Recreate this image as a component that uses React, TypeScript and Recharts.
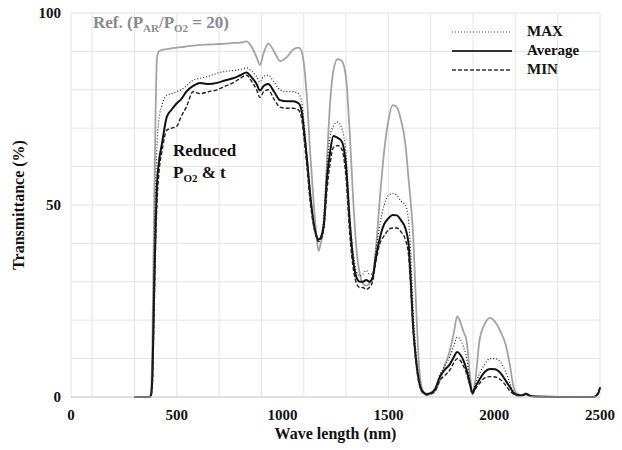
import {
  LineChart,
  Line,
  XAxis,
  YAxis,
  CartesianGrid,
} from 'recharts';

// values
const wavelength = [
  300, 370, 378, 385, 392, 400, 406, 415, 430, 453, 475, 500, 520, 545, 577, 610, 650, 690, 730, 766,
  800, 830, 850, 877, 893, 910, 932, 960, 988, 1020, 1050, 1075, 1090, 1100, 1115, 1130, 1145, 1160, 1170, 1180,
  1195, 1210, 1225, 1240, 1260, 1280, 1300, 1318, 1335, 1350, 1365, 1380, 1395, 1410, 1425, 1440, 1460, 1480, 1500, 1520,
  1540, 1560, 1580, 1595, 1605, 1616, 1630, 1645, 1660, 1680, 1700, 1720, 1745, 1765, 1790, 1810, 1825, 1840, 1855, 1870,
  1885, 1897, 1910, 1930, 1955, 1980, 2005, 2030, 2055, 2075, 2090, 2105, 2130, 2150, 2170, 2200, 2300, 2400, 2470, 2490,
  2500,
];

const refValues = [
  0, 0, 0.5, 15, 45, 75, 88, 90, 90.4, 90.6, 90.8, 91, 91.1, 91.3, 91.5, 91.7, 91.8, 91.9, 92, 92.2,
  92.3, 92.6, 91.5, 88.5, 86.5, 89.5, 92, 90, 87.5, 88.5, 90.5, 91, 90, 87, 78, 64, 52, 42, 38, 40,
  45, 62, 77, 85, 88, 87.5, 83, 68, 50, 38, 32, 29.5, 29, 29.5, 31, 38, 52, 64, 72, 76,
  75.5, 72, 66, 57, 51, 43, 25, 8, 2, 0.5, 0.8, 1.5, 4.5, 8, 12, 17, 21, 19.5, 17, 14.5,
  6, 1, 4, 14.5, 19, 20.6, 19.5, 17, 13.5, 8, 3, 1, 0.5, 1, 0.3, 0.1, 0, 0, 0, 0.8,
  2.5,
];

const maxValues = [
  0, 0, 0.8, 10, 35, 55, 65, 72, 76, 78.6, 79, 79.5, 80, 81, 82.5, 83, 83.5, 84.3, 84.8, 85,
  85.3, 85.7, 85, 83.5, 82, 83.5, 83.8, 82, 80, 79.5, 79.5, 79, 77, 72, 63, 54, 46, 42, 40.5, 41.5,
  47, 60, 68, 70.5, 71.6, 70, 63, 47, 37, 32.5, 31.5, 32, 33, 32, 32, 38, 45, 50, 52.5, 53,
  52.5, 51, 50, 46, 38, 24, 12, 5, 1.5, 0.8, 1, 2.2, 6, 8, 10.5, 13.5, 15.6, 15, 13, 10,
  4.5, 1.2, 3, 6, 8.5, 10, 10, 9, 6.5, 3.5, 1.5, 0.7, 0.4, 0.9, 0.3, 0.1, 0, 0, 0, 0.8,
  2.5,
];

const avgValues = [
  0, 0, 0.5, 6, 25, 45, 55, 61, 66, 73, 74.8, 76.5, 77.5, 79.5, 81, 81.8, 81.5, 81.8, 82.5, 83,
  83.8, 84.5, 83.5, 81.5, 79.8, 81, 81.5, 79.5, 77.3, 77, 77, 76.5, 74.5, 70, 62, 53, 46, 42, 41, 41.5,
  45, 57, 64, 68, 67.5, 66.5, 60, 45, 35, 31, 30, 30, 30.5, 30, 31, 36, 41.5, 45, 46.5, 47.4,
  47.3, 46, 44, 40, 31, 19, 10, 4, 1.5, 0.8, 1, 2, 5.5, 7, 8.5, 10.5, 11.7, 11, 9.5, 7,
  3.5, 1, 2.5, 4.5, 6.5, 7.3, 7.2, 6.2, 4.2, 2.5, 1.2, 0.6, 0.4, 0.8, 0.3, 0.1, 0, 0, 0, 0.8,
  2.5,
];

const minValues = [
  0, 0, 0.3, 4, 20, 40, 50, 58, 64, 69.5, 70, 70.5, 73, 75.5, 79.5, 79, 79.5, 80, 81, 81.8,
  83, 83.8, 82.5, 80, 78, 79.5, 80, 77.5, 75.5, 75.2, 75.2, 74.7, 72.5, 68, 60, 51, 45, 41.5, 40.5, 41,
  44, 54, 61, 65, 65.5, 64.5, 57, 42, 33, 29.5, 28.5, 28.5, 28, 28.5, 30, 35, 40, 42, 43.5, 44,
  44, 43, 41, 37, 29, 18, 9, 3.5, 1.2, 0.6, 0.8, 1.5, 4.5, 5.5, 7, 9, 10, 9.5, 8, 6,
  3, 0.8, 2, 3.5, 5, 5.3, 5.2, 4.5, 3, 1.5, 0.8, 0.4, 0.3, 0.7, 0.2, 0.1, 0, 0, 0, 0.8,
  2.5,
];

const xTicks = [0, 500, 1000, 1500, 2000, 2500];
const yTicks = [0, 50, 100];
const xGrid = Array.from({ length: 26 }, (_, i) => i * 100);
const yGrid = Array.from({ length: 11 }, (_, i) => i * 10);

const legendItems = [
  { name: 'MAX', dash: '1 2', width: 1.2 },
  { name: 'Average', dash: '', width: 2 },
  { name: 'MIN', dash: '4 2', width: 1.4 },
];

const data = wavelength.map((w, i) => ({
  w,
  ref: refValues[i],
  max: maxValues[i],
  avg: avgValues[i],
  min: minValues[i],
}));

const font = "'Liberation Serif', 'Times New Roman', serif";
const tickStyle = { fontFamily: font, fontWeight: 700, fontSize: 15, fill: '#111' };

function LegendBox() {
  return (
    <div style={{ position: 'absolute', left: 451, top: 22, fontFamily: font, fontWeight: 700, fontSize: 15, color: '#111' }}>
      {legendItems.map((it) => (
        <div key={it.name} style={{ display: 'flex', alignItems: 'center', height: 19 }}>
          <svg width={62} height={6} style={{ marginRight: 14 }}>
            <line x1={1} y1={3} x2={61} y2={3} stroke="#333" strokeWidth={it.width} strokeDasharray={it.dash} />
          </svg>
          <span>{it.name}</span>
        </div>
      ))}
    </div>
  );
}

export default function App() {
  return (
    <div style={{ position: 'relative', width: 622, height: 450, background: '#fff' }}>
      <style>{'body { margin: 0; }'}</style>
      <LineChart width={622} height={450} data={data} margin={{ top: 13, right: 22, bottom: 23, left: 0 }}>
        <CartesianGrid stroke="#e4e4e4" verticalValues={xGrid} horizontalValues={yGrid} />
        <XAxis
          dataKey="w"
          type="number"
          domain={[0, 2500]}
          ticks={xTicks}
          tick={tickStyle}
          tickLine={false}
          axisLine={{ stroke: '#d0d0d0' }}
          tickMargin={6}
          height={30}
          label={{
            value: 'Wave length (nm)',
            position: 'bottom',
            offset: 1,
            style: { fontFamily: font, fontWeight: 700, fontSize: 16, fill: '#111' },
          }}
        />
        <YAxis
          type="number"
          domain={[0, 100]}
          ticks={yTicks}
          tick={tickStyle}
          tickLine={false}
          axisLine={false}
          width={71}
          tickMargin={4}
          label={{
            value: 'Transmittance (%)',
            angle: -90,
            position: 'center',
            dx: -17,
            style: { fontFamily: font, fontWeight: 700, fontSize: 16, fill: '#111', textAnchor: 'middle' },
          }}
        />
        <Line type="monotone" dataKey="ref" name="Ref." stroke="#a3a3a3" strokeWidth={1.8} dot={false} isAnimationActive={false} />
        <Line type="monotone" dataKey="max" name="MAX" stroke="#222" strokeWidth={1.2} strokeDasharray="1 2" dot={false} isAnimationActive={false} />
        <Line type="monotone" dataKey="avg" name="Average" stroke="#111" strokeWidth={2} dot={false} isAnimationActive={false} />
        <Line type="monotone" dataKey="min" name="MIN" stroke="#222" strokeWidth={1.4} strokeDasharray="4 2" dot={false} isAnimationActive={false} />
      </LineChart>
      <LegendBox />
      <div style={{ position: 'absolute', left: 93, top: 13, fontFamily: font, fontWeight: 700, fontSize: 17, color: '#8a8a8a' }}>
        Ref. (P<sub style={{ fontSize: 11 }}>AR</sub>/P<sub style={{ fontSize: 11 }}>O2</sub> = 20)
      </div>
      <div style={{ position: 'absolute', left: 173, top: 140, fontFamily: font, fontWeight: 700, fontSize: 17, color: '#111', lineHeight: '22px' }}>
        Reduced
        <br />
        P<sub style={{ fontSize: 11 }}>O2</sub> &amp; t
      </div>
    </div>
  );
}
